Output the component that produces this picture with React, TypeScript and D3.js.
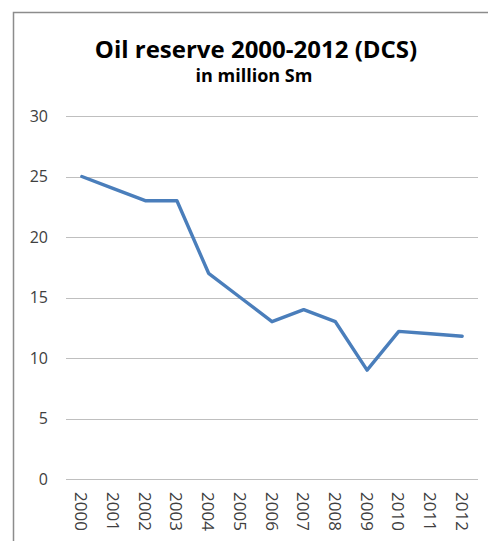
import React from "react";
import * as d3 from "d3";

const years = ["2000","2001","2002","2003","2004","2005","2006","2007","2008","2009","2010","2011","2012"];
const reserve = [25, 24, 23, 23, 17, 15, 13, 14, 13, 9, 12.2, 12, 11.8];
const yTicks = [0, 5, 10, 15, 20, 25, 30];
const title = "Oil reserve 2000-2012 (DCS)";
const subtitle = "in million Sm";

const W = 488, H = 541;
const FONT = "'Open Sans', 'DejaVu Sans', sans-serif";

export default function App() {
  const x = d3.scaleBand<string>().domain(years).range([66, 478]);
  const y = d3.scaleLinear().domain([0, 30]).range([479, 116]);
  const line = d3.line<number>()
    .x((_, i) => (x(years[i]) as number) + x.bandwidth() / 2)
    .y((d) => y(d));

  return (
    <svg width={W} height={H} style={{ position: "absolute", left: 0, top: 0, background: "#fff" }}>
      <rect x={0} y={0} width={W} height={H} fill="#fff" />
      <rect x={13.5} y={12.5} width={600} height={700} fill="none" stroke="#8c8c8c" strokeWidth={1.5} />
      <text x={256} y={58} textAnchor="middle" fontFamily={FONT} fontWeight="bold" fontSize={24} fill="#000">{title}</text>
      <text x={254} y={82} textAnchor="middle" fontFamily={FONT} fontWeight="bold" fontSize={18} fill="#000">{subtitle}</text>
      {yTicks.map((t) => (
        <g key={t}>
          <line x1={66} x2={478} y1={Math.round(y(t)) + 0.5} y2={Math.round(y(t)) + 0.5} stroke="#bfbfbf" strokeWidth={1.2} />
          <text x={48} y={y(t)} dy="0.35em" textAnchor="end" fontFamily={FONT} fontSize={16} fill="#404040">{t}</text>
        </g>
      ))}
      {years.map((yr) => {
        const cx = (x(yr) as number) + x.bandwidth() / 2;
        return (
          <text key={yr} transform={`translate(${cx},492) rotate(90)`} dominantBaseline="central" fontFamily={FONT} fontSize={17} fill="#404040">{yr}</text>
        );
      })}
      <path d={line(reserve) || ""} fill="none" stroke="#4a7ebb" strokeWidth={3.4} strokeLinejoin="round" strokeLinecap="round" />
    </svg>
  );
}
